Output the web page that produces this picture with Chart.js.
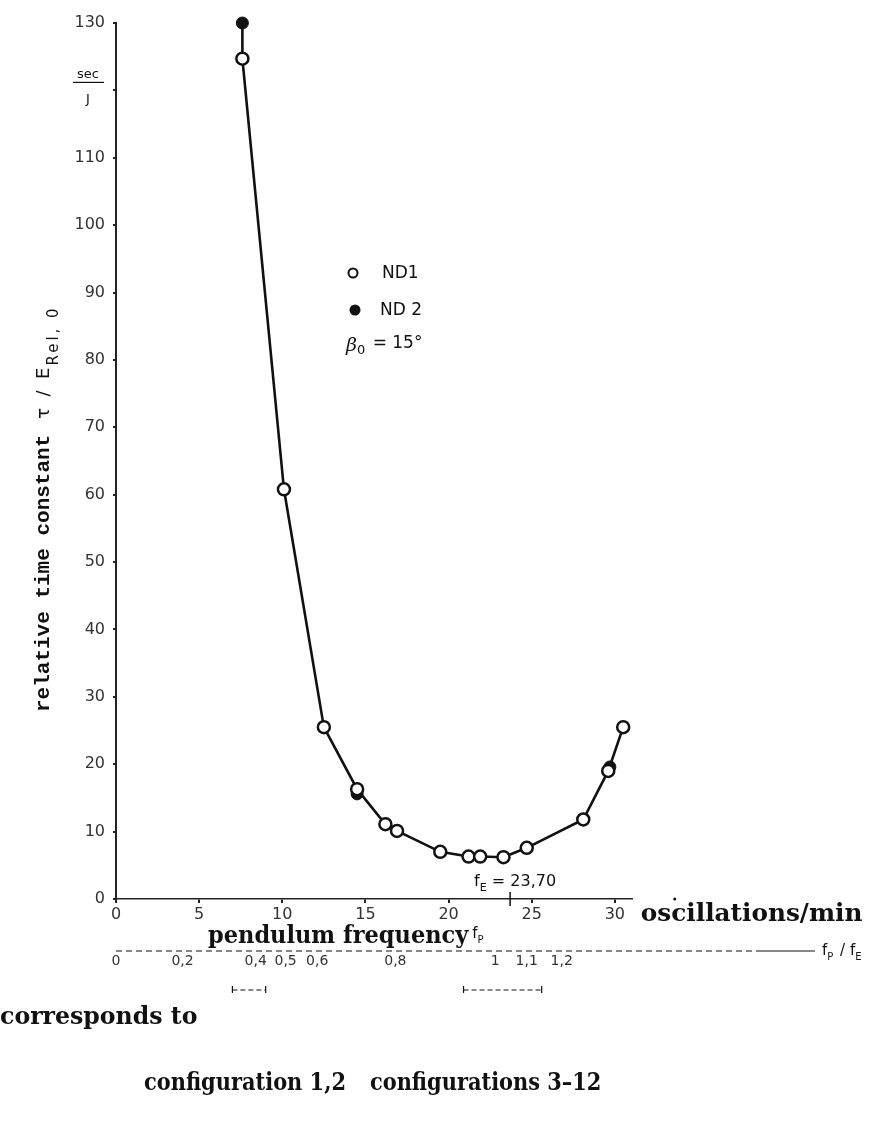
<!DOCTYPE html>
<html>
<head>
<meta charset="utf-8">
<script src="https://cdn.jsdelivr.net/npm/chart.js@4.4.0/dist/chart.umd.min.js"></script>
<style>
  html, body { margin: 0; padding: 0; background: #fff; }
  #wrap { width: 882px; height: 1127px; position: relative; }
</style>
</head>
<body>
<div id="wrap"><canvas id="chart" width="882" height="1127"></canvas></div>
<script>
// pendulum frequency (oscillations/min) vs relative time constant (sec/J)
const nd1Freq = [7.6, 10.1, 12.5, 14.5, 16.2, 16.9, 19.5, 21.2, 21.9, 23.3, 24.7, 28.1, 29.6, 30.5];
const nd1Tau  = [124.7, 60.8, 25.5, 16.3, 11.1, 10.1, 7.0, 6.3, 6.3, 6.2, 7.6, 11.8, 19.0, 25.5];
const nd2Freq = [7.6, 14.5, 29.7];
const nd2Tau  = [130, 15.6, 19.6];

const freqTicks = [0, 5, 10, 15, 20, 25, 30];
const tauTicks = [0, 10, 20, 30, 40, 50, 60, 70, 80, 90, 100, 110, 120, 130];
// f_P/f_E scale, printed under the frequency axis (positions in osc/min as printed)
const ratioLabels = ['0', '0,2', '0,4', '0,5', '0,6', '0,8', '1', '1,1', '1,2'];
const ratioAt = [0, 4.0, 8.4, 10.2, 12.1, 16.8, 22.8, 24.7, 26.8];
const fE = 23.7;
const conf12 = [7.0, 9.0];
const conf312 = [20.9, 25.6];

const toPoints = (xs, ys) => xs.map((x, i) => ({ x: x, y: ys[i] }));
const curve = [toPoints(nd2Freq, nd2Tau)[0]].concat(toPoints(nd1Freq, nd1Tau));

const tickFont = { family: '"DejaVu Sans", sans-serif', size: 16 };
const boldFont = 'bold 25px "DejaVu Serif Condensed", "DejaVu Serif", serif';
const thinFont = '16px "DejaVu Sans", sans-serif';

function subText(c, x, y, base, sub, font, subFont) {
    c.font = font;
    c.fillText(base, x, y);
    x += c.measureText(base).width;
    c.font = subFont;
    c.fillText(sub, x, y + 5);
    return x + c.measureText(sub).width;
}

// typewriter words of the scan: squeeze/stretch horizontally by sx
function wideText(c, text, x, y, sx) {
    c.font = boldFont;
    c.save();
    c.translate(x, y);
    c.scale(sx, 1);
    c.fillText(text, 0, 0);
    c.restore();
    return x + c.measureText(text).width * sx;
}

const extras = {
    id: 'extras',
    afterDraw(chart) {
        const c = chart.ctx;
        const xs = chart.scales.x, ys = chart.scales.y, area = chart.chartArea;
        c.save();
        c.fillStyle = '#111';
        c.strokeStyle = '#111';
        c.textBaseline = 'alphabetic';
        c.textAlign = 'left';

        // f_E marker
        const xe = xs.getPixelForValue(fE);
        c.lineWidth = 1.5;
        c.beginPath(); c.moveTo(xe, area.bottom - 7); c.lineTo(xe, area.bottom + 7); c.stroke();
        let px = subText(c, xe - 36, area.bottom - 13, 'f', 'E', thinFont, '11px "DejaVu Sans", sans-serif');
        c.font = thinFont;
        c.fillText(' = 23,70', px, area.bottom - 13);

        // stray dot at the end of the x axis
        c.beginPath(); c.arc(xs.getPixelForValue(33.6), area.bottom, 1.5, 0, Math.PI * 2); c.fill();

        // sec/J unit at the 120 tick
        const y120 = ys.getPixelForValue(120);
        c.font = '13px "DejaVu Sans", sans-serif';
        c.textAlign = 'center';
        c.fillText('sec', 88, y120 - 12);
        c.fillText('J', 88, y120 + 13);
        c.lineWidth = 1.2;
        c.beginPath(); c.moveTo(73, y120 - 8); c.lineTo(104, y120 - 8); c.stroke();
        c.textAlign = 'left';

        // y axis title
        c.save();
        c.translate(44, 712);
        c.rotate(-Math.PI / 2);
        c.textBaseline = 'middle';
        c.font = 'bold 21px "Liberation Mono", monospace';
        c.fillText('relative time constant', 0, 0);
        px = c.measureText('relative time constant').width + 16;
        c.font = '18px "DejaVu Sans", sans-serif';
        c.fillText('\u03c4  /  E', px, 0);
        px += c.measureText('\u03c4  /  E').width + 2;
        c.font = '15px "DejaVu Sans", sans-serif';
        c.letterSpacing = '3px';
        c.fillText('Rel, 0', px, 10);
        c.letterSpacing = '0px';
        c.restore();

        // legend
        c.lineWidth = 2;
        c.beginPath(); c.arc(353, 273, 4.5, 0, Math.PI * 2); c.stroke();
        c.beginPath(); c.arc(355, 310, 5.5, 0, Math.PI * 2); c.fill();
        c.font = '17px "DejaVu Sans", sans-serif';
        c.textBaseline = 'middle';
        c.fillText('ND1', 382, 274);
        c.fillText('ND 2', 380, 311);
        px = subText(c, 346, 346, '\u03b2', '0', 'italic 19px "DejaVu Serif", serif', '13px "DejaVu Sans", sans-serif');
        c.font = '17px "DejaVu Sans", sans-serif';
        c.fillText(' = 15\u00b0', px + 2, 344);
        c.textBaseline = 'alphabetic';

        // axis words
        wideText(c, 'oscillations/min', xs.getPixelForValue(30) + 26, 921, 1.1);
        px = wideText(c, 'pendulum frequency', 208, 943, 1.0);
        subText(c, px + 4, 938, 'f', 'P', '15px "DejaVu Sans", sans-serif', '10px "DejaVu Sans", sans-serif');

        // f_P/f_E scale line
        c.lineWidth = 1.2;
        c.setLineDash([6, 4]);
        c.beginPath(); c.moveTo(xs.getPixelForValue(0), 951); c.lineTo(760, 951); c.stroke();
        c.setLineDash([]);
        c.beginPath(); c.moveTo(760, 951); c.lineTo(815, 951); c.stroke();
        px = subText(c, 822, 955, 'f', 'P', '15px "DejaVu Sans", sans-serif', '10px "DejaVu Sans", sans-serif');
        px = subText(c, px + 2, 955, ' / f', 'E', '15px "DejaVu Sans", sans-serif', '10px "DejaVu Sans", sans-serif');

        // configuration ranges
        c.lineWidth = 1.2;
        [conf12, conf312].forEach(r => {
            const a = xs.getPixelForValue(r[0]), b = xs.getPixelForValue(r[1]);
            c.setLineDash([5, 3]);
            c.beginPath(); c.moveTo(a, 990); c.lineTo(b, 990); c.stroke();
            c.setLineDash([]);
            c.beginPath(); c.moveTo(a, 986); c.lineTo(a, 993); c.moveTo(b, 986); c.lineTo(b, 993); c.stroke();
        });

        wideText(c, 'corresponds to', 0, 1024, 1.05);
        px = wideText(c, 'configuration 1,2', 144, 1090, 0.93);
        wideText(c, 'configurations 3\u201312', px + 24, 1090, 0.93);
        c.restore();
    }
};

const ctx = document.getElementById('chart').getContext('2d');
new Chart(ctx, {
    type: 'scatter',
    data: {
        datasets: [
            {
                label: 'ND1',
                data: toPoints(nd1Freq, nd1Tau),
                pointRadius: 6,
                pointBorderWidth: 2.5,
                backgroundColor: '#fff',
                borderColor: '#111',
                clip: false,
                order: 1
            },
            {
                label: 'ND 2',
                data: toPoints(nd2Freq, nd2Tau),
                pointRadius: 6,
                backgroundColor: '#111',
                borderColor: '#111',
                clip: false,
                order: 2
            },
            {
                label: 'curve',
                data: curve,
                showLine: true,
                borderColor: '#111',
                borderWidth: 2.6,
                pointRadius: 0,
                clip: false,
                order: 3
            }
        ]
    },
    options: {
        responsive: false,
        animation: false,
        layout: { padding: { left: 0, right: 250.5, top: 23, bottom: 150 } },
        plugins: { legend: { display: false }, tooltip: { enabled: false } },
        scales: {
            x: {
                type: 'linear',
                position: 'bottom',
                weight: 0,
                min: 0,
                max: 31,
                afterBuildTicks: s => { s.ticks = freqTicks.map(v => ({ value: v })); },
                afterFit: s => { s.height = 48; },
                grid: { display: true, drawOnChartArea: false, drawTicks: true, tickLength: 4, color: '#222', lineWidth: 2 },
                border: { display: true, color: '#222', width: 1.5, dash: [7, 4] },
                ticks: { color: '#333', font: tickFont, padding: 2, maxRotation: 0, autoSkip: false }
            },
            ratio: {
                type: 'linear',
                position: 'bottom',
                weight: 1,
                min: 0,
                max: 31,
                afterBuildTicks: s => { s.ticks = ratioAt.map(v => ({ value: v })); },
                afterFit: s => { s.height = 30; },
                grid: { display: false, drawTicks: false },
                border: { display: false },
                ticks: {
                    color: '#333', font: { family: '"DejaVu Sans", sans-serif', size: 14 },
                    padding: 6, maxRotation: 0, autoSkip: false,
                    callback: (v, i) => ratioLabels[i]
                }
            },
            y: {
                type: 'linear',
                min: 0,
                max: 130,
                afterBuildTicks: s => { s.ticks = tauTicks.map(v => ({ value: v })); },
                afterFit: s => { s.width = 116; },
                grid: { display: true, drawOnChartArea: false, drawTicks: true, tickLength: 3, color: '#222', lineWidth: 2 },
                border: { display: true, color: '#222', width: 2, dash: [16, 2] },
                ticks: {
                    color: '#333', font: tickFont, padding: 8,
                    callback: v => v === 120 ? '' : v
                }
            }
        }
    },
    plugins: [extras]
});
</script>
</body>
</html>
